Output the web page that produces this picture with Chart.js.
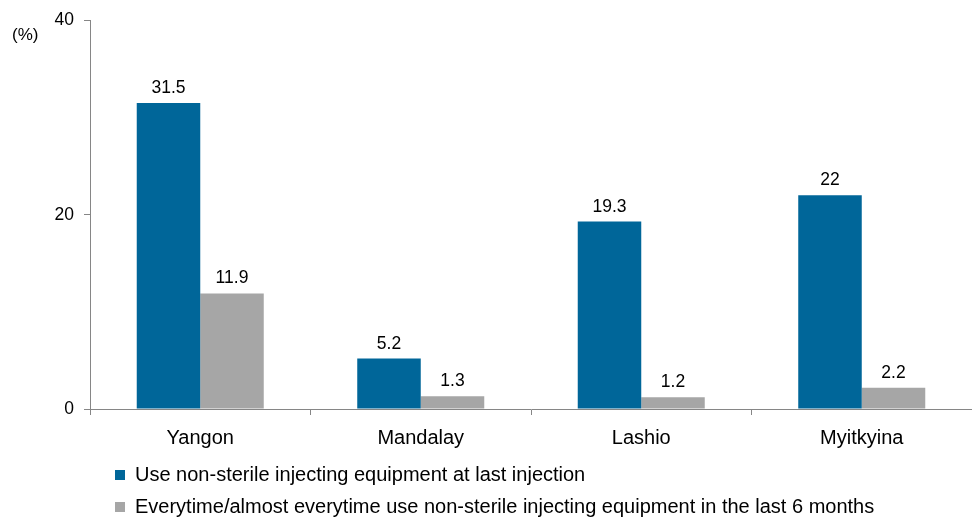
<!DOCTYPE html>
<html lang="en">
  <head>
    <meta charset="UTF-8" />
    <title>Non-sterile injecting equipment</title>
    <script src="https://cdn.jsdelivr.net/npm/chart.js"></script>
    <style>
      html,
      body {
        margin: 0;
        padding: 0;
        background: #fff;
      }
      #wrap {
        width: 972px;
        height: 518px;
      }
    </style>
  </head>
  <body>
    <div id="wrap"><canvas id="chart"></canvas></div>

    <script>
      const cities = ["Yangon", "Mandalay", "Lashio", "Myitkyina"];
      const lastInjection = [31.5, 5.2, 19.3, 22];
      const lastSixMonths = [11.9, 1.3, 1.2, 2.2];
      const seriesNames = [
        "Use non-sterile injecting equipment at last injection",
        "Everytime/almost everytime use non-sterile injecting equipment in the last 6 months",
      ];
      const yTicks = [0, 20, 40];

      const FONT = "'Liberation Sans', Arial, sans-serif";
      const AXIS = "#868686";

      // value labels above bars + the "(%)" unit
      const extras = {
        id: "extras",
        afterLayout(chart) {
          // nudge legend to sit where the reference has it
          const lg = chart.legend;
          lg.left += 13;
          lg.right += 13;
          lg.top += 3;
          lg.bottom += 3;
        },
        afterDatasetsDraw(chart) {
          const ctx = chart.ctx;
          ctx.save();
          ctx.fillStyle = "#000";
          ctx.font = "17.5px " + FONT;
          ctx.textAlign = "center";
          ctx.textBaseline = "bottom";
          chart.data.datasets.forEach((ds, i) => {
            chart.getDatasetMeta(i).data.forEach((bar, j) => {
              ctx.fillText(String(ds.data[j]), bar.x, bar.y - 6);
            });
          });
          ctx.font = "17px " + FONT;
          ctx.textAlign = "left";
          ctx.textBaseline = "middle";
          ctx.fillText("(%)", 12, 35);
          ctx.restore();
        },
      };

      new Chart(document.getElementById("chart"), {
        type: "bar",
        data: {
          labels: cities,
          datasets: [
            {
              label: seriesNames[0],
              data: lastInjection,
              backgroundColor: "#006699",
            },
            {
              label: seriesNames[1],
              data: lastSixMonths,
              backgroundColor: "#A6A6A6",
            },
          ],
        },
        options: {
          responsive: true,
          maintainAspectRatio: false,
          animation: false,
          categoryPercentage: 0.576,
          barPercentage: 1,
          layout: { padding: { top: 19, left: 0, right: 0, bottom: 0 } },
          scales: {
            x: {
              afterFit: (s) => {
                s.height = 41;
              },
              grid: {
                drawOnChartArea: false,
                drawTicks: true,
                tickLength: 6,
                color: AXIS,
                offset: true,
              },
              border: { color: AXIS },
              ticks: {
                color: "#000",
                padding: 11,
                font: { family: FONT, size: 20 },
              },
            },
            y: {
              min: 0,
              max: 40,
              afterFit: (s) => {
                s.width = 90;
              },
              afterBuildTicks: (s) => {
                s.ticks = yTicks.map((v) => ({ value: v }));
              },
              grid: {
                drawOnChartArea: false,
                tickLength: 6,
                color: AXIS,
              },
              border: { color: AXIS },
              ticks: {
                color: "#000",
                padding: 10,
                font: { family: FONT, size: 17.5 },
              },
            },
          },
          plugins: {
            legend: {
              position: "bottom",
              align: "start",
              fullSize: false,
              maxHeight: 68,
              labels: {
                boxWidth: 10,
                boxHeight: 10,
                padding: 12,
                color: "#000",
                font: { family: FONT, size: 20 },
              },
            },
            tooltip: { enabled: false },
          },
        },
        plugins: [extras],
      });
    </script>
  </body>
</html>
